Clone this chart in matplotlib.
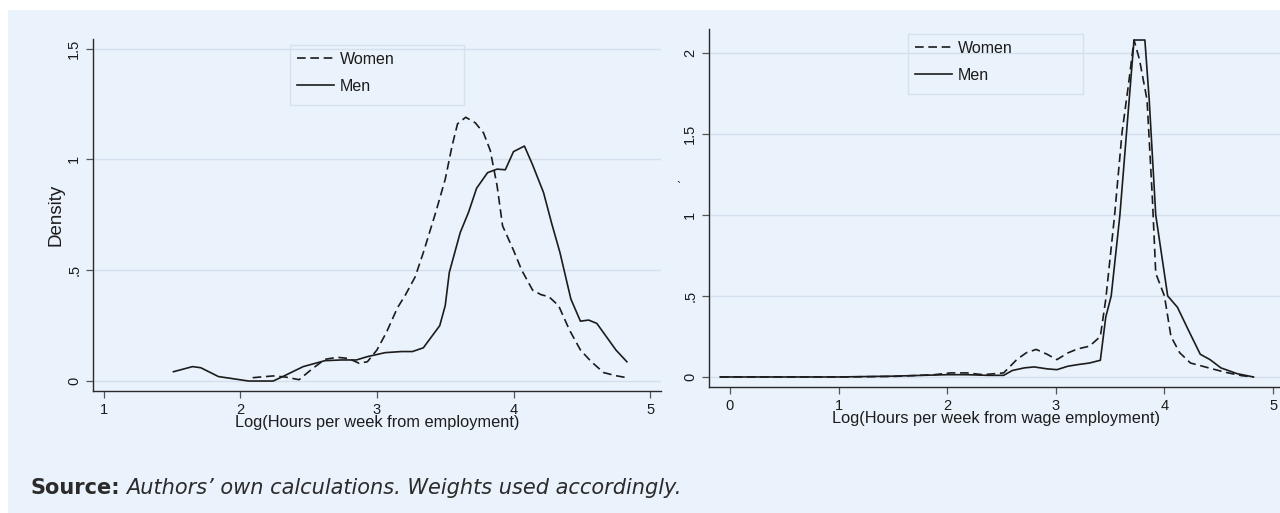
import matplotlib
matplotlib.use("Agg")
import matplotlib.pyplot as plt
from matplotlib.patches import Rectangle

# kernel density, log hours per week from employment
emp_x_women = [2.09, 2.24, 2.33, 2.43, 2.53, 2.62, 2.71, 2.79, 2.87, 2.93, 3.0, 3.07,
               3.15, 3.21, 3.28, 3.34, 3.43, 3.50, 3.55, 3.59, 3.65, 3.72, 3.78, 3.83,
               3.88, 3.92, 4.0, 4.06, 4.14, 4.2, 4.26, 4.33, 4.41, 4.49, 4.57, 4.66,
               4.75, 4.83]
emp_y_women = [0.015, 0.023, 0.018, 0.006, 0.057, 0.098, 0.107, 0.102, 0.08, 0.087, 0.14,
               0.22, 0.33, 0.39, 0.47, 0.58, 0.76, 0.91, 1.06, 1.16, 1.19, 1.165, 1.12,
               1.04, 0.88, 0.70, 0.59, 0.50, 0.41, 0.39, 0.38, 0.34, 0.23, 0.14, 0.087,
               0.038, 0.024, 0.015]
emp_x_men = [1.51, 1.65, 1.71, 1.84, 1.93, 2.06, 2.24, 2.31, 2.46, 2.62, 2.74, 2.85, 2.93,
             3.06, 3.18, 3.26, 3.34, 3.40, 3.46, 3.50, 3.53, 3.61, 3.67, 3.73, 3.81, 3.88,
             3.94, 4.0, 4.08, 4.14, 4.22, 4.28, 4.34, 4.42, 4.49, 4.55, 4.61, 4.68, 4.75,
             4.83]
emp_y_men = [0.042, 0.065, 0.06, 0.02, 0.012, 0.0, 0.0, 0.02, 0.065, 0.092, 0.095, 0.095,
             0.11, 0.128, 0.133, 0.133, 0.15, 0.20, 0.25, 0.34, 0.49, 0.67, 0.76, 0.87,
             0.94, 0.956, 0.953, 1.035, 1.06, 0.975, 0.85, 0.71, 0.58, 0.37, 0.27, 0.275,
             0.26, 0.20, 0.14, 0.087]

# kernel density, log hours per week from wage employment
wage_x_women = [-0.09, 0.5, 1.0, 1.5, 1.88, 2.03, 2.18, 2.33, 2.52, 2.64, 2.73, 2.82, 2.92,
                3.01, 3.11, 3.20, 3.31, 3.41, 3.46, 3.54, 3.61, 3.67, 3.72, 3.77, 3.84,
                3.89, 3.92, 4.0, 4.06, 4.14, 4.24, 4.33, 4.44, 4.56, 4.71, 4.82]
wage_y_women = [0.0, 0.0, 0.0, 0.003, 0.014, 0.025, 0.025, 0.014, 0.025, 0.107, 0.15, 0.17,
                0.14, 0.107, 0.148, 0.173, 0.19, 0.25, 0.48, 0.99, 1.51, 1.81, 2.08, 1.96,
                1.71, 1.09, 0.64, 0.5, 0.25, 0.15, 0.086, 0.07, 0.05, 0.029, 0.008, 0.0]
wage_x_men = [-0.09, 0.5, 1.0, 1.5, 2.0, 2.18, 2.37, 2.52, 2.6, 2.71, 2.8, 2.92, 3.01, 3.11,
              3.2, 3.31, 3.41, 3.46, 3.51, 3.59, 3.65, 3.72, 3.77, 3.82, 3.86, 3.92, 4.03,
              4.12, 4.22, 4.33, 4.42, 4.52, 4.67, 4.82]
wage_y_men = [0.0, 0.0, 0.0, 0.005, 0.014, 0.014, 0.01, 0.01, 0.04, 0.056, 0.062, 0.05,
              0.045, 0.066, 0.076, 0.086, 0.103, 0.37, 0.5, 1.0, 1.5, 2.08, 2.08, 2.08,
              1.71, 1.0, 0.5, 0.43, 0.29, 0.14, 0.107, 0.056, 0.02, 0.0]

emp_xticks = [1, 2, 3, 4, 5]
emp_yticks = [0, 0.5, 1, 1.5]
emp_yticklabels = ["0", ".5", "1", "1.5"]
wage_xticks = [0, 1, 2, 3, 4, 5]
wage_yticks = [0, 0.5, 1, 1.5, 2]
wage_yticklabels = ["0", ".5", "1", "1.5", "2"]

BG = "#eaf2fb"
GRID = "#d3e0ed"
FRAME = "#d6e1ed"
INK = "#1c1c1c"
DASH = (5.2, 2.8)
W, H = 1280, 513

plt.rcParams["font.family"] = ["Liberation Sans", "DejaVu Sans"]

fig = plt.figure(figsize=(W / 100, H / 100), dpi=100, facecolor="white")
fig.patches.append(Rectangle((8 / W, 0), 1 - 8 / W, 1 - 10 / H, transform=fig.transFigure,
                             facecolor=BG, edgecolor="none", zorder=-10))


def px_axes(x0, y0, x1, y1):
    return fig.add_axes([x0 / W, 1 - y1 / H, (x1 - x0) / W, (y1 - y0) / H])


def style(ax, xticks, yticks, yticklabels, xlim, ylim):
    ax.set_facecolor("none")
    for side in ("top", "right"):
        ax.spines[side].set_visible(False)
    for side in ("left", "bottom"):
        ax.spines[side].set_color("#2a2a2a")
        ax.spines[side].set_linewidth(1.0)
    ax.set_xticks(xticks)
    ax.set_yticks(yticks)
    ax.set_yticklabels(yticklabels, rotation=90, va="center")
    ax.set_xlim(*xlim)
    ax.set_ylim(*ylim)
    ax.tick_params(axis="both", direction="out", length=5, width=0.9, color="#555555",
                   labelsize=10.5, labelcolor=INK, pad=3.5)
    ax.grid(axis="y", color=GRID, linewidth=1.0)
    ax.set_axisbelow(True)


def legend(ax, box):
    # box = (left, top, right, bottom) in pixels
    x0, y0, x1, y1 = box
    leg = ax.legend(loc="upper left", bbox_to_anchor=((x0 + 7) / W, 1 - (y0 + 7) / H),
                    bbox_transform=fig.transFigure, frameon=False, fontsize=11.5,
                    handlelength=2.3, handletextpad=0.4, labelspacing=0.75,
                    borderpad=0, borderaxespad=0)
    for txt in leg.get_texts():
        txt.set_color(INK)
    fig.patches.append(Rectangle((x0 / W, 1 - y1 / H), (x1 - x0) / W, (y1 - y0) / H,
                                 transform=fig.transFigure, facecolor=BG,
                                 edgecolor=FRAME, linewidth=1.0, zorder=-5))


# left panel: all employment
ax1 = px_axes(93, 39, 661, 391)
ax1.plot(emp_x_women, emp_y_women, color=INK, lw=1.2, dashes=DASH, label="Women")
ax1.plot(emp_x_men, emp_y_men, color=INK, lw=1.2, label="Men")
style(ax1, emp_xticks, emp_yticks, emp_yticklabels, (0.921, 5.08), (-0.045, 1.543))
ax1.set_xlabel("Log(Hours per week from employment)", fontsize=11.8, color=INK)
ax1.xaxis.set_label_coords((377 - 93) / 568, -(415 - 391) / 352)
ax1.set_ylabel("Density", fontsize=13.5, color=INK)
ax1.yaxis.set_label_coords(-(93 - 64) / 568, 0.5)
legend(ax1, (290, 45, 464, 105))

# right panel: wage employment
ax2 = px_axes(709, 29, 1280, 387)
ax2.plot(wage_x_women, wage_y_women, color=INK, lw=1.2, dashes=DASH, label="Women")
ax2.plot(wage_x_men, wage_y_men, color=INK, lw=1.2, label="Men")
style(ax2, wage_xticks, wage_yticks, wage_yticklabels, (-0.193, 5.064), (-0.062, 2.148))
ax2.set_xlabel("Log(Hours per week from wage employment)", fontsize=11.8, color=INK)
ax2.xaxis.set_label_coords((996 - 709) / 571, -(411 - 387) / 358)
legend(ax2, (908, 34, 1083, 94))
fig.text(678 / W, 1 - 188 / H, "`", fontsize=9, color=INK, ha="center", va="center")

# source note
src_bold = fig.text(30 / W, 1 - 494 / H, "Source:", fontsize=15, fontweight="bold",
                    family="DejaVu Sans", color="#2b2b2b", va="baseline")
renderer = fig.canvas.get_renderer()
bold_end = src_bold.get_window_extent(renderer).x1
fig.text((bold_end + 6) / W, 1 - 494 / H,
         "Authors\u2019 own calculations. Weights used accordingly.",
         fontsize=15, style="italic", family="DejaVu Sans", color="#2b2b2b",
         va="baseline")

fig.savefig("out.png", dpi=100, facecolor="white")
